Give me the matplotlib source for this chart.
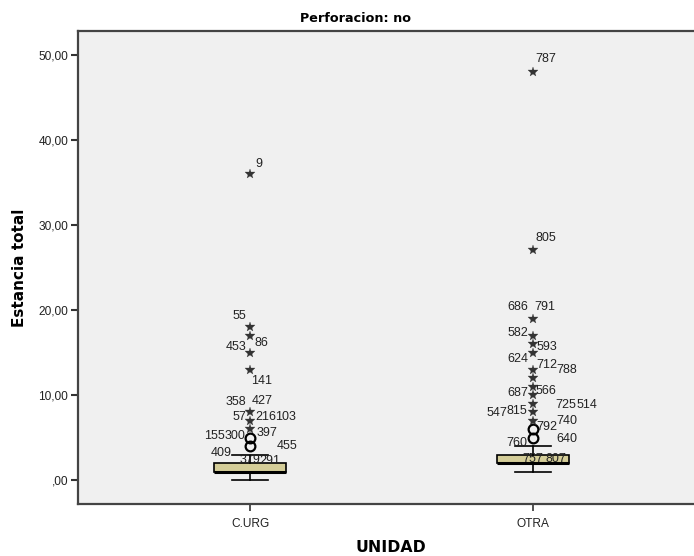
import matplotlib
matplotlib.use("Agg")
import matplotlib.pyplot as plt
from matplotlib.ticker import FuncFormatter

# ---------------- data ----------------
categories = ["C.URG", "OTRA"]
q1 = [1, 2]
median = [1, 2]
q3 = [2, 3]
whisker_low = [0, 1]
whisker_high = [3, 4]
outliers = [[4, 5], [5, 6]]                       # circles
extremes = [[6, 7, 8, 13, 15, 17, 18, 36],         # stars
            [7, 8, 9, 10, 11, 12, 13, 15, 16, 17, 19, 27, 48]]

# case labels: (text, category index, value)
case_labels = [
    ("9", 0, 36), ("55", 0, 18), ("86", 0, 17), ("453", 0, 15), ("141", 0, 13),
    ("358", 0, 8), ("427", 0, 8), ("57", 0, 7), ("216", 0, 7), ("103", 0, 7),
    ("155", 0, 5), ("300", 0, 5), ("397", 0, 6), ("455", 0, 4), ("409", 0, 4),
    ("379", 0, 4), ("291", 0, 4),
    ("787", 1, 48), ("805", 1, 27), ("686", 1, 19), ("791", 1, 19), ("582", 1, 17),
    ("593", 1, 16), ("624", 1, 15), ("712", 1, 13), ("788", 1, 13), ("687", 1, 10),
    ("566", 1, 11), ("725", 1, 9), ("514", 1, 9), ("547", 1, 8), ("815", 1, 8),
    ("740", 1, 7), ("792", 1, 6), ("760", 1, 5), ("640", 1, 5), ("757", 1, 5),
    ("807", 1, 5),
]
yticks = [0, 10, 20, 30, 40, 50]

# label offsets in pixels (style)
label_offsets = [
    (9, 10), (-11, 11), (11, -7), (-14, 5), (12, -12),
    (-14, 10), (12, 11), (-11, 3), (16, 3), (36, 3),
    (-36, 1.5), (-15.5, 1.5), (17, -4.5), (37, 0), (-29, -6.5),
    (0, -14), (19.5, -15.5),
    (12.5, 12.5), (12.5, 12), (-15.5, 11), (11.5, 12), (-15.5, 3),
    (13.5, -3.5), (-15.5, -6.5), (13.5, 5), (34, -0.5), (-15.5, 1.5),
    (12.5, -4), (33, -1.5), (53.5, -1.5), (-36.5, -0.5), (-16, 1.5),
    (34, 0), (13.5, 2.5), (-16.5, -5), (34, -1.5), (0, -22),
    (23, -21),
]

ARIAL = ["Liberation Sans", "DejaVu Sans"]
BOLD = ["DejaVu Sans"]

# ---------------- figure ----------------
W, H = 694, 556
fig = plt.figure(figsize=(W / 100, H / 100), dpi=100, facecolor="white")
ax = fig.add_axes([78 / W, (H - 504) / H, (705 - 78) / W, (504 - 31) / H])
ax.set_facecolor("#F0F0F0")

positions = [1, 2]
stats = []
for i in range(len(categories)):
    stats.append(dict(q1=q1[i], med=median[i], q3=q3[i],
                      whislo=whisker_low[i], whishi=whisker_high[i], fliers=[]))

ax.bxp(stats, positions=positions, widths=0.251, capwidths=0.124,
       patch_artist=True, showfliers=False,
       boxprops=dict(facecolor="#D4CD98", edgecolor="black", linewidth=1.2),
       medianprops=dict(color="black", linewidth=2.2),
       whiskerprops=dict(color="black", linewidth=1.2),
       capprops=dict(color="black", linewidth=1.2), zorder=2)

for i, p in enumerate(positions):
    ax.plot([p] * len(outliers[i]), outliers[i], linestyle="none", marker="o",
            markersize=7, markerfacecolor="none", markeredgecolor="black",
            markeredgewidth=1.6, zorder=3)
    ax.plot([p] * len(extremes[i]), extremes[i], linestyle="none", marker="*",
            markersize=7, markerfacecolor="#333333", markeredgecolor="#333333",
            markeredgewidth=0.2, zorder=3)

for (txt, ci, val), (dx, dy) in zip(case_labels, label_offsets):
    ax.annotate(txt, xy=(positions[ci], val), xytext=(dx, dy),
                textcoords="offset pixels", ha="center", va="center",
                fontsize=9, color="#222222", family=ARIAL, zorder=4)

ax.set_xlim(1 - 172 / 283, 2 + 172 / 283)
ax.set_ylim((480 - 504) / 8.5, (480 - 31) / 8.5)
ax.set_xticks(positions)
ax.set_xticklabels(categories, fontsize=8.6, color="#222222", family=ARIAL)
ax.set_yticks(yticks)
ax.yaxis.set_major_formatter(FuncFormatter(
    lambda v, p: ("%.2f" % v).replace(".", ",") if v != 0 else ",00"))
for lab in ax.get_yticklabels():
    lab.set_family(ARIAL)
ax.tick_params(axis="y", labelsize=8.6, labelcolor="#222222", length=5,
               width=1.5, color="#333333", direction="out", pad=2)
ax.tick_params(axis="x", length=5, width=1.2, color="#333333", pad=5)

for s in ["left", "bottom", "top"]:
    ax.spines[s].set_linewidth(1.6)
    ax.spines[s].set_color("#444444")
ax.spines["right"].set_visible(False)

fig.text(20 / W, 1 - 268 / H, "Estancia total", rotation=90, ha="center",
         va="center", fontsize=11, fontweight="bold", color="black",
         family=BOLD)
fig.text(391 / W, 1 - 547 / H, "UNIDAD", ha="center", va="center",
         fontsize=11.3, fontweight="bold", color="black", family=BOLD)
fig.text(355 / W, 1 - 19 / H, "Perforacion: no", ha="center", va="center",
         fontsize=9.2, fontweight="bold", color="black", family=BOLD)

fig.savefig("out.png", dpi=100, facecolor="white")
